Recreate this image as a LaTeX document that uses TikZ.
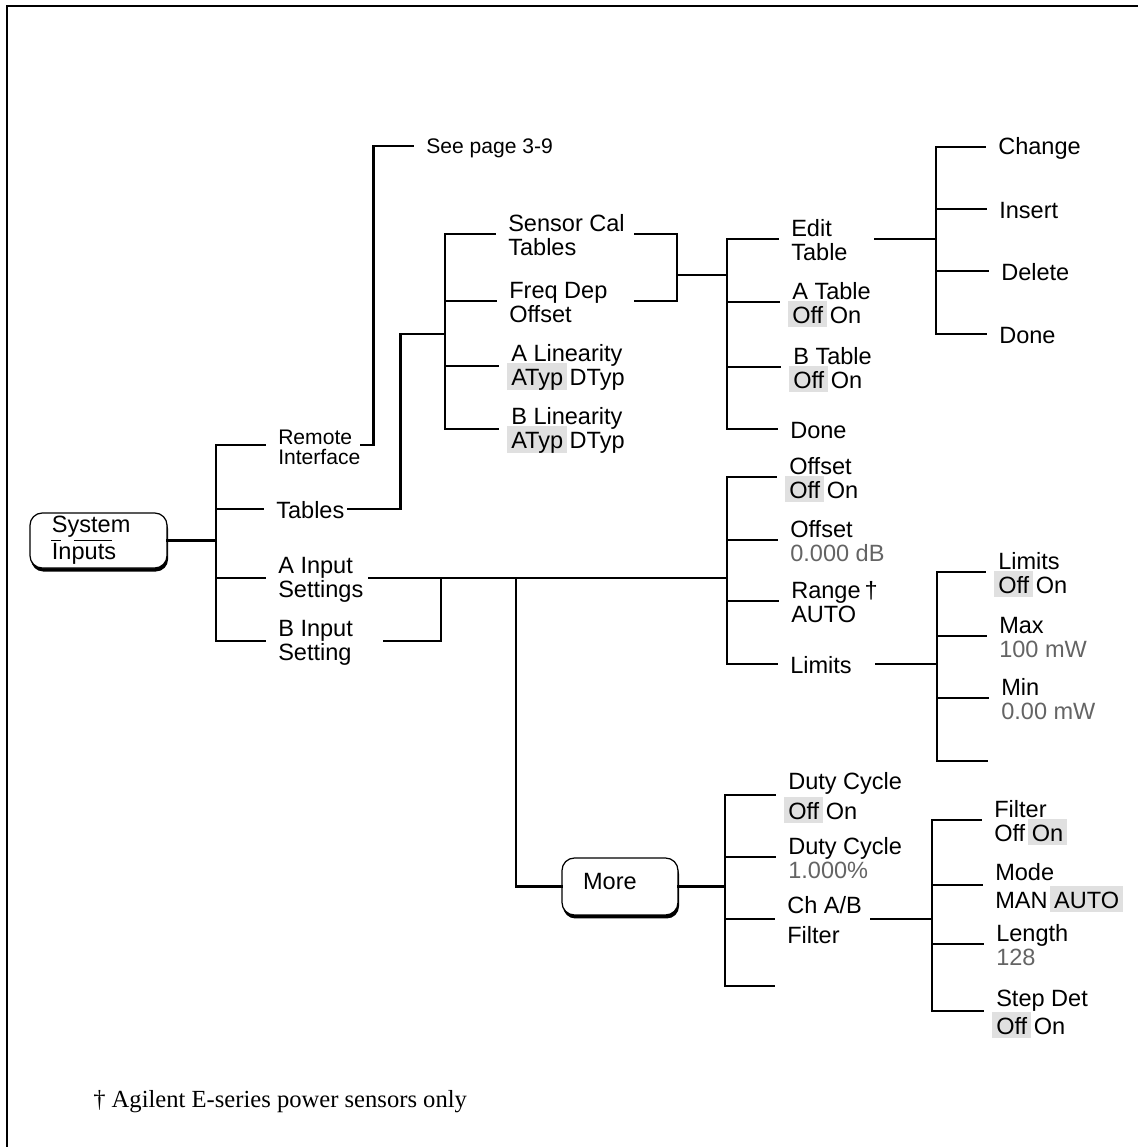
\documentclass[tikz,border=0pt]{standalone}
\usepackage{fontspec}
\setmainfont{Liberation Sans}
\newfontfamily\serifnote{Liberation Serif}
\usetikzlibrary{calc,shadows}
\definecolor{hlgray}{RGB}{224,224,224}
\definecolor{valgray}{RGB}{100,100,100}
\newcommand{\st}{\rule{0pt}{10.8pt}}
\newcommand{\hl}[1]{\hspace*{-2.3pt}\smash{\setlength{\fboxsep}{0pt}\colorbox{hlgray}{\hspace{2.3pt}\rule[-2.3pt]{0pt}{14.8pt}#1\hspace{2pt}}}\hspace*{-2pt}}
\newcommand{\val}[1]{\textcolor{valgray}{#1}}

\begin{document}
\begin{tikzpicture}[x=0.02cm,y=-0.02cm,line width=1.45pt,line cap=rect,
  lbl/.style={anchor=north west,inner sep=0pt,align=left,font=\fontsize{13.4}{13.65}\selectfont},
  small/.style={font=\fontsize{12}{11.4}\selectfont},
  keybtn/.style={draw,line width=.7pt,rounded corners=7pt,fill=white,align=left,inner ysep=0pt,
    font=\fontsize{13.4}{15.4}\selectfont,
    drop shadow={shadow xshift=.6pt,shadow yshift=-2pt,opacity=1,fill=black}},
  br/.style={shorten >=7pt}]
\useasboundingbox (0,0) rectangle (1137,1147);
\draw (7,1147) -- (7,6) -- (1137,6);
% root key
\node[keybtn,text width=53pt,inner xsep=12.5pt,minimum height=31.3pt] (sys) at (98.5,540.5) {System\\Inputs};
\draw[line width=1pt,line cap=butt] ($(sys.north west)+(22,28)$) -- ++(10,0) ($(sys.north west)+(45,28)$) -- ++(38,0);
\node[lbl,small] (rem) at (277,424) {\st Remote\\Interface};
\node[lbl] (tab) at (275,498) {\st Tables};
\node[lbl] (ain) at (277,553) {\st A Input\\Settings};
\node[lbl] (bin) at (277,616) {\st B Input\\Setting};
\coordinate (r0) at (216,541);
\draw (sys.east) -- (sys.east -| r0);
\draw (r0 |- rem.west) -- (r0 |- bin.west);
\foreach \n in {rem,tab,ain,bin} \draw[br] (r0 |- \n.west) -- (\n.west);
% remote interface
\node[lbl,small] (seep) at (425,133) {\st See page 3-9};
\draw[br] (rem.east) -- ++(12,0) |- (seep.west);
% tables
\node[lbl] (scal) at (507,211) {\st Sensor Cal\\Tables};
\node[lbl] (fdo) at (508,278) {\st Freq Dep\\Offset};
\node[lbl] (alin) at (510,341) {\st A Linearity\\\hl{ATyp} DTyp};
\node[lbl] (blin) at (510,404) {\st B Linearity\\\hl{ATyp} DTyp};
\coordinate (t0) at (445,334);
\draw (tab.east) ++(3,0) -- ++(52,0) |- (t0);
\draw (t0 |- scal.west) -- (t0 |- blin.west);
\foreach \n in {scal,fdo,alin,blin} \draw[br] (t0 |- \n.west) -- (\n.west);
\coordinate (m1) at (677,275);
\draw (scal.east) ++(9,0) coordinate (s1) -| (m1);
\draw (s1 |- fdo.east) -| (m1);
% edit table
\coordinate (e0) at (727,275);
\draw (m1) -- (e0);
\node[lbl] (edit) at (790,216) {\st Edit\\Table};
\node[lbl] (atab) at (791,279) {\st A Table\\\hl{Off} On};
\node[lbl] (btab) at (792,344) {\st B Table\\\hl{Off} On};
\node[lbl] (done1) at (789,418) {\st Done};
\draw (e0 |- edit.west) -- (e0 |- done1.west);
\foreach \n in {edit,atab,btab,done1} \draw[br] (e0 |- \n.west) -- (\n.west);
\node[lbl] (chg) at (997,134) {\st Change};
\node[lbl] (ins) at (998,198) {\st Insert};
\node[lbl] (del) at (1000,260) {\st Delete};
\node[lbl] (done2) at (998,323) {\st Done};
\coordinate (c0) at (936,241);
\draw (edit.east) ++(26,0) -- (c0 |- edit.east);
\draw (c0 |- chg.west) -- (c0 |- done2.west);
\foreach \n in {chg,ins,del,done2} \draw[br] (c0 |- \n.west) -- (\n.west);
% input settings
\node[lbl] (offs) at (788,454) {\st Offset\\\hl{Off} On};
\node[lbl] (offv) at (789,517) {\st Offset\\\val{0.000 dB}};
\node[lbl] (rng) at (790,578) {\st Range\,†\\AUTO};
\node[lbl] (lim) at (789,653) {\st Limits};
\coordinate (o0) at (727,576);
\draw (ain.east) ++(5,0) coordinate (a1) -- (a1 -| o0);
\draw (bin.east) ++(30,0) -- ++(57,0) coordinate (b1) -- (b1 |- a1);
\draw (o0 |- offs.west) -- (o0 |- lim.west);
\foreach \n in {offs,offv,rng,lim} \draw[br] (o0 |- \n.west) -- (\n.west);
% limits
\node[lbl] (limo) at (997,549) {\st Limits\\\hl{Off} On};
\node[lbl] (max) at (998,613) {\st Max\\\val{100 mW}};
\node[lbl] (min) at (1000,675) {\st Min\\\val{0.00 mW}};
\coordinate (l0) at (937,666);
\coordinate (l4) at (937,761);
\draw (lim.east) ++(23,0) -- (l0 |- lim.east);
\draw (l0 |- limo.west) -- (l4);
\foreach \n in {limo,max,min} \draw[br] (l0 |- \n.west) -- (\n.west);
\draw (l4) -- ++(50,0);
% more key
\coordinate (a2) at (516,576);
\node[keybtn,text width=42pt,inner xsep=12pt,minimum height=32.4pt,text height=9.7pt,text depth=6.8pt] (more) at (620,886.5) {More};
\draw (a2 |- a1) |- (more.west);
\coordinate (mo0) at (725,886);
\coordinate (mo4) at (725,986);
\draw (more.east) -- (more.east -| mo0);
\node[lbl] (dc1) at (787,769) {\st Duty Cycle\\[3.4pt]\hl{Off} On};
\node[lbl] (dc2) at (787,834) {\st Duty Cycle\\\val{1.000\%}};
\node[lbl] (chab) at (786,893) {\st Ch A/B\\[3.4pt]Filter};
\draw (mo0 |- dc1.west) -- (mo4);
\foreach \n in {dc1,dc2,chab} \draw[br] (mo0 |- \n.west) -- (\n.west);
\draw (mo4) -- ++(49,0);
% filter
\node[lbl] (filt) at (993,797) {\st Filter\\Off \hl{On}};
\node[lbl] (mode) at (994,860) {\st Mode\\[2.3pt]MAN \hl{AUTO}};
\node[lbl] (len) at (995,921) {\st Length\\\val{128}};
\node[lbl] (step) at (995,986) {\st Step Det\\[2.3pt]\hl{Off} On};
\coordinate (f0) at (932,921);
\draw (chab.east) ++(8,0) -- (f0 |- chab.east);
\draw (f0 |- filt.west) -- (f0 |- step.west);
\foreach \n in {filt,mode,len,step} \draw[br] (f0 |- \n.west) -- (\n.west);
\node[anchor=base west,inner sep=0pt,font=\serifnote\fontsize{14}{16}\selectfont] (note) at (92,1107) {† Agilent E-series power sensors only};
\end{tikzpicture}
\end{document}
